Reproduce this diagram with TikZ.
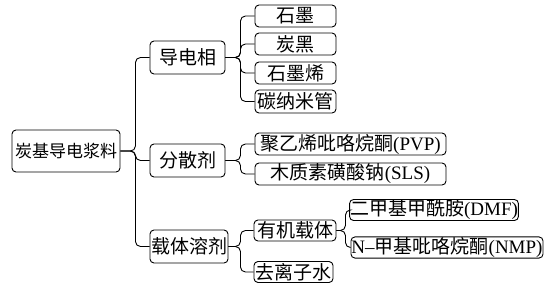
\documentclass[tikz,border=0pt]{standalone}
\usepackage{fontspec}
\setmainfont{Liberation Serif}
\newfontfamily\cjk{Noto Sans CJK SC}
\usepackage{tikz}
\usetikzlibrary{positioning}

\tikzset{
  box/.style={draw,rounded corners=4pt,line width=.9pt,inner sep=.5pt,
    font=\fontsize{19}{21}\selectfont},
  link/.style={line width=.9pt,rounded corners=5pt},
}

\begin{document}
\begin{tikzpicture}[x=1pt,y=-1pt]
\useasboundingbox (0,0) rectangle (554,287);
% root and main branches
\node[box,minimum width=108,minimum height=42,
  font=\fontsize{17}{20}\selectfont] (root) at (66,151)
  {\cjk 炭基导电浆料};
\node[box,minimum width=75,minimum height=33] (cond) at (187.5,57.5)
  {\cjk 导电相};
\node[box,minimum width=75,minimum height=33] (disp) at (187.5,160.5)
  {\cjk 分散剂};
\node[box,minimum width=78,minimum height=33] (solv) at (189,246.5)
  {\cjk 载体溶剂};

% conductive phase
\node[box,minimum width=81,minimum height=22] (graphite) at (295.5,16)
  {\cjk 石墨};
\node[box,minimum width=81,minimum height=22] (cblack) at (295.5,44)
  {\cjk 炭黑};
\node[box,minimum width=81,minimum height=22] (graphene) at (295.5,73)
  {\cjk 石墨烯};
\node[box,minimum width=81,minimum height=23] (cnt) at (295.5,101.5)
  {\cjk 碳纳米管};

% dispersants
\node[box,minimum width=191,minimum height=22] (pvp) at (350.5,144)
  {{\cjk 聚乙烯吡咯烷酮}(PVP)};
\node[box,minimum width=191,minimum height=22] (sls) at (350.5,174)
  {{\cjk 木质素磺酸钠}(SLS)};

% carriers and solvents
\node[box,minimum width=82,minimum height=21] (organic) at (295,230.5)
  {\cjk 有机载体};
\node[box,minimum width=79,minimum height=21] (water) at (293.5,272)
  {\cjk 去离子水};
\node[box,minimum width=166,minimum height=20] (dmf) at (434,210)
  {{\cjk 二甲基甲酰胺}(DMF)};
\node[box,minimum width=192,minimum height=21] (nmp) at (447,247.5)
  {N--{\cjk 甲基吡咯烷酮}(NMP)};

\foreach \c in {cond,disp,solv}
  \draw[link] (root.east) -- ++(15,0) |- (\c.west);
\foreach \c in {graphite,cblack,graphene,cnt}
  \draw[link] (cond.east) -- ++(15,0) |- (\c.west);
\foreach \c in {pvp,sls}
  \draw[link] (disp.east) -- ++(15,0) |- (\c.west);
\foreach \c in {organic,water}
  \draw[link] (solv.east) -- ++(12,0) |- (\c.west);
\foreach \c in {dmf,nmp}
  \draw[link] (organic.east) -- ++(9,0) |- (\c.west);
\end{tikzpicture}
\end{document}
